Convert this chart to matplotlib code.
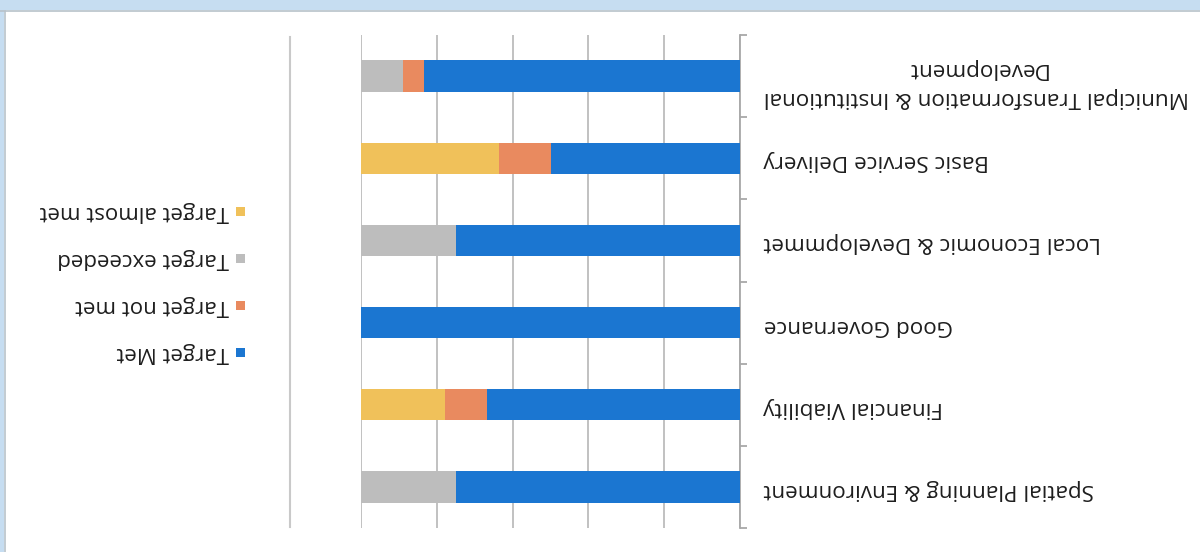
import matplotlib
matplotlib.use("Agg")
import matplotlib.pyplot as plt
from matplotlib.patches import Rectangle
from matplotlib.lines import Line2D
import numpy as np

# ---- data (percent of targets per KPA, 100% stacked) ----
categories = [
    "Spatial Planning & Environment",
    "Financial Viability",
    "Good Governance",
    "Local Economic & Developmmet",
    "Basic Service Delivery",
    "Municipal Transformation & Institutional\nDevelopment",
]
target_met = [75.0, 66.7, 100.0, 75.0, 50.0, 83.3]
target_not_met = [0.0, 11.1, 0.0, 0.0, 13.6, 5.6]
target_exceeded = [25.0, 0.0, 0.0, 25.0, 0.0, 11.1]
target_almost_met = [0.0, 22.2, 0.0, 0.0, 36.4, 0.0]
series_names = ["Target Met", "Target not met", "Target exceeded", "Target almost met"]
series_values = [target_met, target_not_met, target_exceeded, target_almost_met]
series_colors = ["#1b76d1", "#e98a5f", "#bdbdbd", "#f0c15a"]
value_ticks = [0, 20, 40, 60, 80, 100]

FONT = "Open Sans"
W, H = 1200, 552
fig = plt.figure(figsize=(W / 100, H / 100), dpi=100)
fig.patch.set_facecolor("white")

def fx(px):
    return px / W

def fy(py):
    return 1 - py / H

# scan border
fig.patches.append(Rectangle((0, fy(10)), 1, 10 / H, transform=fig.transFigure,
                             facecolor="#c6ddf1", edgecolor="none", zorder=0))
fig.patches.append(Rectangle((0, 0), 4 / W, 1, transform=fig.transFigure,
                             facecolor="#c6ddf1", edgecolor="none", zorder=0))
fig.lines.append(Line2D([0, 1], [fy(10.5), fy(10.5)], transform=fig.transFigure,
                        color="#b8c2ca", lw=1.2))
fig.lines.append(Line2D([fx(5), fx(5)], [0, fy(10.5)], transform=fig.transFigure,
                        color="#b8c2ca", lw=1.2))

# plot area (chart is shown rotated by 180 degrees)
x0, x1, y0, y1 = 361, 740, 35, 528
ax = fig.add_axes([fx(x0), fy(y1), fx(x1 - x0), (y1 - y0) / H])
ax.set_facecolor("none")
ypos = np.arange(len(categories))
left = np.zeros(len(categories))
for name, vals, col in zip(series_names, series_values, series_colors):
    vals = np.array(vals)
    ax.barh(ypos, vals, left=left, height=0.38, color=col, label=name, zorder=3)
    left += vals

ax.set_xlim(100, 0)
ax.set_ylim(-0.5, len(categories) - 0.5)
ax.set_xticks(value_ticks)
ax.xaxis.grid(True, color="#bcbcbc", lw=1.3, zorder=0)
ax.tick_params(axis="x", length=0, labelbottom=False, labeltop=False)
for s in ["top", "bottom", "left"]:
    ax.spines[s].set_visible(False)
ax.spines["right"].set_color("#a8a8a8")
ax.spines["right"].set_linewidth(1.3)
ax.yaxis.tick_right()
ax.set_yticks(ypos)
ax.set_yticklabels(categories)
ax.set_yticks(np.arange(-0.5, len(categories), 1.0), minor=True)
ax.tick_params(axis="y", which="major", length=0, pad=17)
ax.tick_params(axis="y", which="minor", length=5, width=1.3, color="#a8a8a8",
               direction="out")
for lab in ax.get_yticklabels():
    lab.set_rotation(180)
    lab.set_fontfamily(FONT)
    lab.set_fontsize(16.2)
    lab.set_color("#1e1e1e")
    lab.set_multialignment("center")
    lab.set_linespacing(1.5)

# separator line
fig.lines.append(Line2D([fx(290), fx(290)], [fy(37), fy(527)], transform=fig.transFigure,
                        color="#c9c9c9", lw=1.5))

# legend (rotated 180 degrees)
for i, (name, col) in enumerate(zip(series_names, series_colors)):
    yc = 352 - i * 46.7
    fig.patches.append(Rectangle((fx(236), fy(yc + 4.5)), 9 / W, 9 / H,
                                 transform=fig.transFigure, facecolor=col,
                                 edgecolor="none"))
    fig.text(fx(229), fy(yc), name, rotation=180, ha="right", va="center",
             fontsize=16, family=FONT, color="#1e1e1e")

fig.savefig("out.png", dpi=100, facecolor="white")
